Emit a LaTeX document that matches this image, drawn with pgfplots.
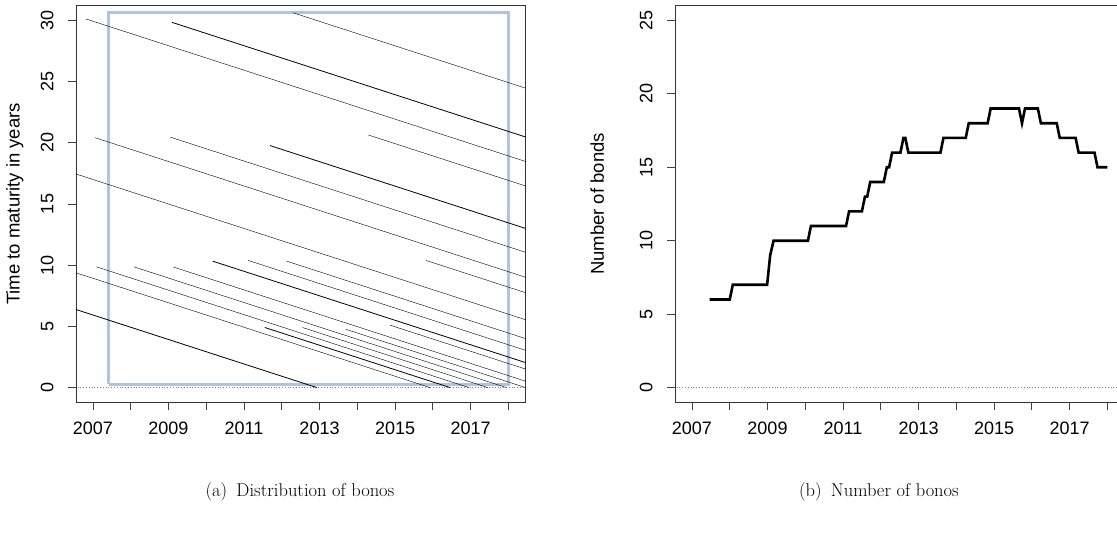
\documentclass[border=0pt]{standalone}
\usepackage{fontspec}
\setsansfont{Liberation Sans}
\usepackage{pgfplots}
\pgfplotsset{compat=1.18}

\definecolor{boxblue}{RGB}{176,196,222}

\pgfplotsset{
  rpanel/.style={
    scale only axis, width=449.7pt, height=396.6pt,
    xmin=2006.55, xmax=2018.46,
    xtick={2007,...,2018},
    xticklabels={2007,,2009,,2011,,2013,,2015,,2017,},
    tick align=outside, tick pos=left,
    major tick length=8pt,
    every tick/.style={black!75, line width=0.8pt},
    axis line style={black!80, line width=0.9pt},
    ticklabel style={font=\fontsize{18}{20}\sffamily},
    xticklabel style={yshift=-8pt},
    yticklabel style={rotate=90, anchor=south, yshift=11pt},
    label style={font=\fontsize{18.5}{20}\sffamily},
    cycle list={{black, solid, no markers, line width=0.8pt}},
    clip=true,
  },
}

\begin{document}
\begin{tikzpicture}
\path[use as bounding box] (0pt,0pt) rectangle (1117pt,533pt);

% (a) time to maturity of each bond
\begin{axis}[rpanel, at={(76pt,130.7pt)}, anchor=south west,
  ymin=-1.2, ymax=31.2,
  ytick={0,5,...,30}, yticklabels={0,5,10,15,20,25,30},
  ylabel={Time to maturity in years},
  ylabel style={at={(axis description cs:-0.136,0.5)}, anchor=center},
]
\addplot[gray, dotted, line width=0.8pt] coordinates {(2006,0) (2019,0)};
\addplot[boxblue, line width=3pt] coordinates {(2007.42,0.27) (2018.0,0.27) (2018.0,30.65) (2007.42,30.65) (2007.42,0.27)};
\addplot coordinates {(2006.81,30.12) (2019,17.93)};
\addplot coordinates {(2009.09,29.84) (2019,19.93)};
\addplot coordinates {(2012.30,30.62) (2019,23.92)};
\addplot coordinates {(2007.05,20.42) (2019,8.47)};
\addplot coordinates {(2009.05,20.46) (2019,10.51)};
\addplot coordinates {(2011.69,19.77) (2019,12.46)};
\addplot coordinates {(2014.29,20.64) (2019,15.93)};
\addplot coordinates {(2006.30,17.70) (2019,5.00)};
\addplot coordinates {(2006.30,9.63) (2015.93,0)};
\addplot coordinates {(2006.30,6.63) (2012.93,0)};
\addplot coordinates {(2007.09,9.87) (2016.96,0)};
\addplot coordinates {(2008.09,9.86) (2017.95,0)};
\addplot coordinates {(2009.12,9.86) (2018.98,0)};
\addplot coordinates {(2010.17,10.33) (2019,1.50)};
\addplot coordinates {(2011.11,10.39) (2019,2.50)};
\addplot coordinates {(2012.13,10.33) (2019,3.46)};
\addplot coordinates {(2015.82,10.39) (2019,7.21)};
\addplot coordinates {(2011.55,4.91) (2016.46,0)};
\addplot coordinates {(2012.55,4.91) (2017.46,0)};
\addplot coordinates {(2013.69,4.77) (2018.46,0)};
\addplot coordinates {(2014.87,5.10) (2019,0.97)};
\end{axis}

% (b) number of bonds outstanding
\begin{axis}[rpanel, at={(675pt,130.7pt)}, anchor=south west,
  ymin=-1, ymax=26,
  ytick={0,5,...,25}, yticklabels={0,5,10,15,20,25},
  ylabel={Number of bonds},
  ylabel style={at={(axis description cs:-0.173,0.5)}, anchor=center},
]
\addplot[gray, dotted, line width=0.8pt] coordinates {(2006,0) (2019,0)};
\addplot[black, line width=2.6pt, line join=miter] coordinates {
 (2007.47,6) (2008.00,6) (2008.08,7) (2008.99,7) (2009.07,9) (2009.16,10)
 (2010.07,10) (2010.15,11) (2011.08,11) (2011.16,12) (2011.50,12) (2011.58,13)
 (2011.64,13) (2011.72,14) (2012.08,14) (2012.16,15) (2012.22,15) (2012.30,16)
 (2012.52,16) (2012.60,17) (2012.65,17) (2012.73,16) (2013.58,16) (2013.66,17)
 (2014.25,17) (2014.33,18) (2014.83,18) (2014.91,19) (2015.66,19) (2015.74,18)
 (2015.82,19) (2016.16,19) (2016.24,18) (2016.66,18) (2016.74,17) (2017.16,17)
 (2017.24,16) (2017.66,16) (2017.74,15) (2018.00,15)};
\end{axis}

\node[font=\fontsize{18.5}{21}\selectfont] at (300pt,41pt) {(a)\enspace Distribution of bonos};
\node[font=\fontsize{18.5}{21}\selectfont] at (879pt,41pt) {(b)\enspace Number of bonos};
\end{tikzpicture}
\end{document}
